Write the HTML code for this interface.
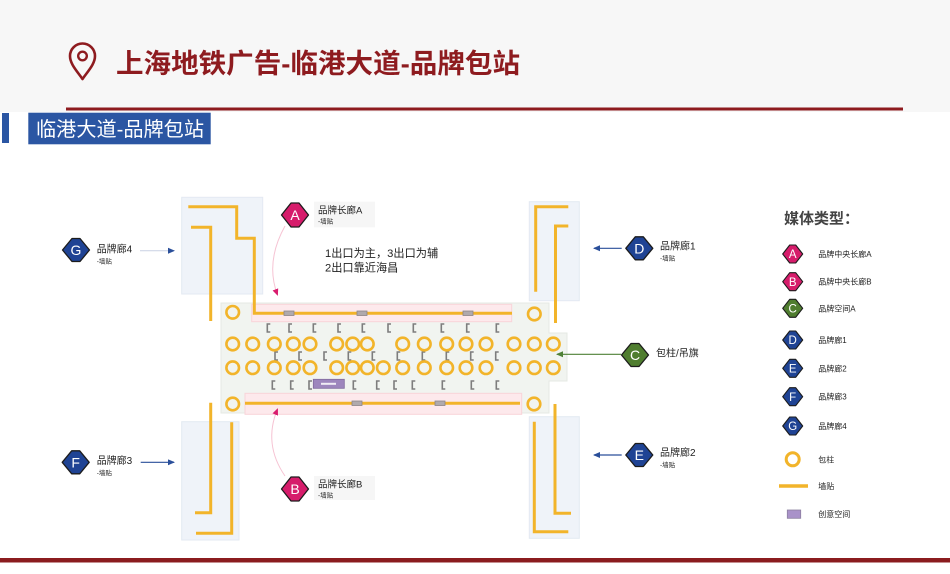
<!DOCTYPE html>
<html><head><meta charset="utf-8"><style>
html,body{margin:0;padding:0;background:#fff;}
svg{display:block;}
text{font-family:"Liberation Sans","Noto Sans CJK SC",sans-serif;}
</style></head><body>
<svg width="950" height="574" viewBox="0 0 950 574" xmlns="http://www.w3.org/2000/svg">
<defs>
<marker id="ab" markerWidth="8" markerHeight="8" refX="6" refY="3" orient="auto" markerUnits="userSpaceOnUse"><path d="M0,0 L7,3 L0,6 Z" fill="#2a4f9a"/></marker>
<marker id="ag" markerWidth="8" markerHeight="8" refX="6" refY="3" orient="auto" markerUnits="userSpaceOnUse"><path d="M0,0 L7,3 L0,6 Z" fill="#4f8136"/></marker>
<marker id="ap" markerWidth="8" markerHeight="8" refX="6" refY="3" orient="auto" markerUnits="userSpaceOnUse"><path d="M0,0 L7,3 L0,6 Z" fill="#d91c6e"/></marker>
</defs>

<!-- header -->
<rect x="0" y="0" width="950" height="112" fill="#f7f7f7"/>
<rect x="66" y="107.5" width="837" height="3" fill="#8e1b1f"/>
<path d="M82.5,79 C77,71 70,64 70,56 A12.5,12.5 0 1 1 95,56 C95,64 88,71 82.5,79 Z" fill="none" stroke="#8e1b1f" stroke-width="2.6" stroke-linejoin="round"/>
<circle cx="82.5" cy="56" r="4.3" fill="none" stroke="#8e1b1f" stroke-width="2.4"/>
<text x="116" y="73" font-size="27" font-weight="bold" fill="#8e1b1f" textLength="404" lengthAdjust="spacingAndGlyphs">上海地铁广告-临港大道-品牌包站</text>

<rect x="2" y="113" width="7" height="30" fill="#2b56a3"/>
<rect x="28.3" y="112.7" width="182.4" height="31.6" fill="#2b56a3"/>
<text x="36" y="136" font-size="20" fill="#ffffff" textLength="168" lengthAdjust="spacingAndGlyphs">临港大道-品牌包站</text>

<!-- light blue boxes -->
<g fill="#eff3f9" stroke="#e3e9f2" stroke-width="1">
<rect x="181.7" y="197.3" width="81" height="96.7"/>
<rect x="529.3" y="201.7" width="50" height="99"/>
<rect x="181.7" y="421.7" width="57.3" height="118.3"/>
<rect x="529.3" y="416.7" width="50" height="121.6"/>
</g>

<!-- platform -->
<path d="M221,303 H549 V333 H567 V381 H549 V413 H221 Z" fill="#f1f4f0" stroke="#e5e9e3" stroke-width="1"/>
<rect x="251.7" y="304.3" width="260" height="17.4" fill="#fde9ec" stroke="#f8d4d9" stroke-width="1"/>
<rect x="245" y="393.3" width="276.7" height="21" fill="#fde9ec" stroke="#f8d4d9" stroke-width="1"/>

<!-- orange wall lines -->
<g fill="none" stroke="#f2b42a" stroke-width="3" stroke-linejoin="miter">
<path d="M188.3,206.7 H236.7 V238.3 H254.3 V313.3 H512"/>
<path d="M191,227.3 H210.7 V321"/>
<path d="M568.3,206.7 H535.7 V291.7"/>
<path d="M568.3,226 H555.5 V323"/>
<path d="M245,403.3 H520"/>
<path d="M210.7,402.7 V512.7 H195"/>
<path d="M231.7,422.3 V533.3 H196"/>
<path d="M555,404 V513.3 H571"/>
<path d="M534.3,421.7 V531.7 H568.3"/>
</g>

<!-- small gray panels -->
<g fill="#b0aaad" stroke="#8c8587" stroke-width="0.8">
<rect x="284" y="311" width="10" height="4.5"/>
<rect x="357" y="311" width="10" height="4.5"/>
<rect x="463" y="311" width="10" height="4.5"/>
<rect x="352" y="401" width="10" height="4.5"/>
<rect x="435" y="401" width="10" height="4.5"/>
</g>

<!-- purple creative space -->
<rect x="313.3" y="379.3" width="31" height="9" fill="#9d86bd" stroke="#7f6a9d" stroke-width="0.8"/>
<rect x="321" y="382.8" width="15" height="2" fill="#ffffff" opacity="0.85"/>

<!-- brackets -->
<g fill="none" stroke="#7d7d7d" stroke-width="1.6">
<path d="M270.3,324 H267.3 V332 H270.3 M292,324 H289 V332 H292 M316.3,324 H313.3 V332 H316.3 M341,324 H338 V332 H341 M365.3,324 H362.3 V332 H365.3 M391,324 H388 V332 H391 M416.3,324 H413.3 V332 H416.3 M444.3,324 H441.3 V332 H444.3 M469.7,324 H466.7 V332 H469.7 M499.3,324 H496.3 V332 H499.3"/>
<path d="M278,352 H275 V360 H278 M302,352 H299 V360 H302 M327,352 H324 V360 H327 M351.3,352 H348.3 V360 H351.3 M375.3,352 H372.3 V360 H375.3 M400.3,352 H397.3 V360 H400.3 M425.3,352 H422.3 V360 H425.3 M449.3,352 H446.3 V360 H449.3 M473.7,352 H470.7 V360 H473.7 M498.7,352 H495.7 V360 H498.7"/>
<path d="M275.3,381 H272.3 V389 H275.3 M293.7,381 H290.7 V389 H293.7 M312,381 H309 V389 H312 M356.3,381 H353.3 V389 H356.3 M379.7,381 H376.7 V389 H379.7 M397,381 H394 V389 H397 M415.3,381 H412.3 V389 H415.3 M445.3,381 H442.3 V389 H445.3 M474.3,381 H471.3 V389 H474.3 M499.3,381 H496.3 V389 H499.3"/>
</g>

<!-- pillars -->
<g fill="none" stroke="#f2b42a" stroke-width="2.6">
<circle cx="232.7" cy="312.3" r="6.3"/>
<circle cx="534.3" cy="314" r="6.3"/>
<circle cx="232.7" cy="404" r="6.3"/>
<circle cx="534" cy="404" r="6.3"/>
<circle cx="232.7" cy="344" r="6.3"/><circle cx="252.7" cy="344" r="6.3"/><circle cx="274.3" cy="344" r="6.3"/><circle cx="293.3" cy="344" r="6.3"/><circle cx="310" cy="344" r="6.3"/><circle cx="336.7" cy="344" r="6.3"/><circle cx="352.7" cy="344" r="6.3"/><circle cx="367.3" cy="344" r="6.3"/><circle cx="402.7" cy="344" r="6.3"/><circle cx="424.3" cy="344" r="6.3"/><circle cx="446.7" cy="344" r="6.3"/><circle cx="466" cy="344" r="6.3"/><circle cx="486" cy="344" r="6.3"/><circle cx="514" cy="344" r="6.3"/><circle cx="534.3" cy="344" r="6.3"/><circle cx="553.3" cy="344" r="6.3"/>
<circle cx="232.7" cy="367.7" r="6.3"/><circle cx="252.7" cy="367.7" r="6.3"/><circle cx="274.3" cy="367.7" r="6.3"/><circle cx="293.3" cy="367.7" r="6.3"/><circle cx="310" cy="367.7" r="6.3"/><circle cx="336.7" cy="367.7" r="6.3"/><circle cx="352.7" cy="367.7" r="6.3"/><circle cx="367.3" cy="367.7" r="6.3"/><circle cx="383.3" cy="367.7" r="6.3"/><circle cx="402.7" cy="367.7" r="6.3"/><circle cx="424.3" cy="367.7" r="6.3"/><circle cx="446.7" cy="367.7" r="6.3"/><circle cx="466" cy="367.7" r="6.3"/><circle cx="486" cy="367.7" r="6.3"/><circle cx="514" cy="367.7" r="6.3"/><circle cx="534.3" cy="367.7" r="6.3"/><circle cx="553.3" cy="367.7" r="6.3"/>
</g>

<!-- connectors -->
<path d="M140,250.7 H174" stroke="#c9d1e3" stroke-width="1" fill="none" marker-end="url(#ab)"/>
<path d="M140.7,462.3 H174" stroke="#2a4f9a" stroke-width="1.2" fill="none" marker-end="url(#ab)"/>
<path d="M621.7,248.3 H594" stroke="#2a4f9a" stroke-width="1.2" fill="none" marker-end="url(#ab)"/>
<path d="M621.7,455 H594" stroke="#2a4f9a" stroke-width="1.2" fill="none" marker-end="url(#ab)"/>
<path d="M621,354.3 H557" stroke="#4f8136" stroke-width="1.2" fill="none" marker-end="url(#ag)"/>
<path d="M285,226 Q265,262 277.5,295" stroke="#f6c3d3" stroke-width="1" fill="none" marker-end="url(#ap)"/>
<path d="M285,476 Q263,444 277.5,409" stroke="#f6c3d3" stroke-width="1" fill="none" marker-end="url(#ap)"/>

<!-- label backgrounds -->
<rect x="314" y="201.7" width="61" height="25.6" fill="#f6f6f6"/>
<rect x="314" y="476" width="61" height="24" fill="#f6f6f6"/>

<!-- main markers -->
<g stroke="#1c1c1c" stroke-width="1.3" stroke-linejoin="round">
<polygon points="281.5,215 291,203 299,203 308.5,215 299,227 291,227" fill="#d61c6b"/>
<polygon points="281.5,489 291,477 299,477 308.5,489 299,501 291,501" fill="#d61c6b"/>
<polygon points="62.5,250 72,238.5 80,238.5 89.5,250 80,261.5 72,261.5" fill="#1f4394"/>
<polygon points="62.2,462.3 71.7,450.8 79.7,450.8 89.2,462.3 79.7,473.8 71.7,473.8" fill="#1f4394"/>
<polygon points="625.8,248.3 635.3,236.8 643.3,236.8 652.8,248.3 643.3,259.8 635.3,259.8" fill="#1f4394"/>
<polygon points="625.8,455 635.3,443.5 643.3,443.5 652.8,455 643.3,466.5 635.3,466.5" fill="#1f4394"/>
<polygon points="621.5,355 631,343.5 639,343.5 648.5,355 639,366.5 631,366.5" fill="#4f7d2f"/>
</g>
<g fill="#ffffff" font-size="14" text-anchor="middle">
<text x="295" y="220">A</text>
<text x="295" y="494">B</text>
<text x="76" y="255">G</text>
<text x="75.7" y="467.3">F</text>
<text x="639.3" y="253.3">D</text>
<text x="639.3" y="460">E</text>
<text x="635" y="360">C</text>
</g>

<!-- marker labels -->
<g fill="#222">
<text x="318" y="213.5" font-size="9.5">品牌长廊A</text>
<text x="318" y="223.5" font-size="6.5">-墙贴</text>
<text x="318" y="487.5" font-size="9.5">品牌长廊B</text>
<text x="318" y="497.5" font-size="6.5">-墙贴</text>
<text x="96.7" y="252.5" font-size="10">品牌廊4</text>
<text x="96.7" y="263.5" font-size="6.5">-墙贴</text>
<text x="96.7" y="464" font-size="10">品牌廊3</text>
<text x="96.7" y="475" font-size="6.5">-墙贴</text>
<text x="660" y="249.5" font-size="10">品牌廊1</text>
<text x="660" y="260.5" font-size="6.5">-墙贴</text>
<text x="660" y="456" font-size="10">品牌廊2</text>
<text x="660" y="467" font-size="6.5">-墙贴</text>
<text x="656" y="356.5" font-size="10">包柱/吊旗</text>
<text x="325" y="257" font-size="11.2">1出口为主，3出口为辅</text>
<text x="325" y="271.5" font-size="11.2">2出口靠近海昌</text>
</g>

<!-- legend -->
<text x="784" y="223.5" font-size="15" font-weight="bold" fill="#444">媒体类型：</text>
<g stroke="#1c1c1c" stroke-width="1.1" stroke-linejoin="round">
<polygon points="782.7,254 789.7,245 795.7,245 802.7,254 795.7,263 789.7,263" fill="#d61c6b"/>
<polygon points="782.7,281.7 789.7,272.7 795.7,272.7 802.7,281.7 795.7,290.7 789.7,290.7" fill="#d61c6b"/>
<polygon points="782.7,308.3 789.7,299.3 795.7,299.3 802.7,308.3 795.7,317.3 789.7,317.3" fill="#4f7d2f"/>
<polygon points="782.7,340 789.7,331 795.7,331 802.7,340 795.7,349 789.7,349" fill="#1f4394"/>
<polygon points="782.7,368.3 789.7,359.3 795.7,359.3 802.7,368.3 795.7,377.3 789.7,377.3" fill="#1f4394"/>
<polygon points="782.7,396.7 789.7,387.7 795.7,387.7 802.7,396.7 795.7,405.7 789.7,405.7" fill="#1f4394"/>
<polygon points="782.7,426 789.7,417 795.7,417 802.7,426 795.7,435 789.7,435" fill="#1f4394"/>
</g>
<g fill="#ffffff" font-size="11.5" text-anchor="middle">
<text x="792.7" y="258.2">A</text>
<text x="792.7" y="285.9">B</text>
<text x="792.7" y="312.5">C</text>
<text x="792.7" y="344.2">D</text>
<text x="792.7" y="372.5">E</text>
<text x="792.7" y="400.9">F</text>
<text x="792.7" y="430.2">G</text>
</g>
<circle cx="792.7" cy="459.3" r="6.5" fill="none" stroke="#f2b42a" stroke-width="3"/>
<line x1="779" y1="486" x2="808" y2="486" stroke="#f2b42a" stroke-width="3.5"/>
<rect x="787.3" y="510" width="13.4" height="8.3" fill="#a992c9" stroke="#8c7fa0" stroke-width="0.8"/>
<g fill="#222" font-size="8">
<text x="818.3" y="257">品牌中央长廊A</text>
<text x="818.3" y="284.7">品牌中央长廊B</text>
<text x="818.3" y="311.3">品牌空间A</text>
<text x="818.3" y="343">品牌廊1</text>
<text x="818.3" y="371.3">品牌廊2</text>
<text x="818.3" y="399.7">品牌廊3</text>
<text x="818.3" y="429">品牌廊4</text>
<text x="818.3" y="462.3">包柱</text>
<text x="818.3" y="489">墙贴</text>
<text x="818.3" y="517">创意空间</text>
</g>

<!-- bottom bar -->
<rect x="0" y="558" width="950" height="4.5" fill="#8b1c1f"/>
</svg>
</body></html>
